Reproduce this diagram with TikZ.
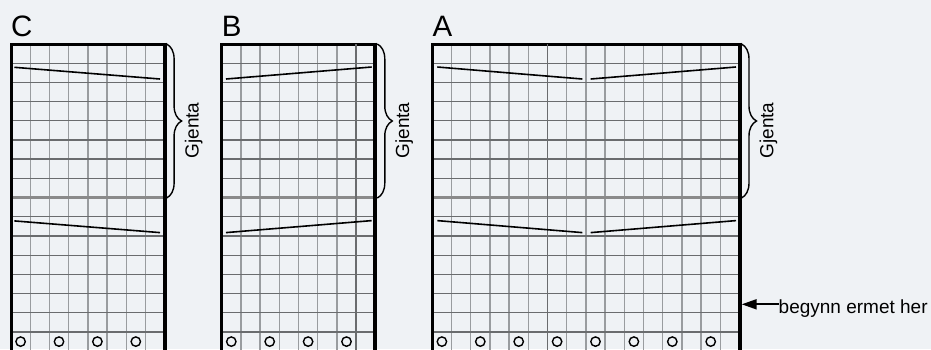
\documentclass[tikz,border=0pt]{standalone}
\usepackage{fontspec}
\setmainfont{Liberation Sans}
\usetikzlibrary{positioning,decorations.pathreplacing,arrows.meta}
\definecolor{ChartBg}{HTML}{EFF2F5}
\definecolor{GridV}{HTML}{999C9F}
\definecolor{GridH}{HTML}{6A6C6E}
\definecolor{RepeatGray}{HTML}{8A8A8A}

\begin{document}
\begin{tikzpicture}[x=1pt,y=-1pt,
    gridv/.style={GridV,line width=1.4pt},
    gridh/.style={GridH,line width=1.1pt},
    decline/.style={black,line width=1.6pt},
    sidetext/.style={font=\fontsize{19}{22}\selectfont,inner sep=0pt}]
        \fill[ChartBg] (0,0) rectangle (931,349);
        \useasboundingbox (0,0) rectangle (931,349);
        \clip (0,0) rectangle (931,349);
        \foreach \lft/\ncol/\lab in {11/8/C,221.7/8/B,432.3/16/A}{
          \pgfmathsetmacro\rgt{\lft+19.2*\ncol}
          \pgfmathtruncatemacro\lastcol{\ncol-1}
          \foreach \i in {1,...,\lastcol} \draw[gridv] ({\lft+19.2*\i},44) -- ({\lft+19.2*\i},352);
          \foreach \j in {1,...,15} \draw[gridh] (\lft,{44+19.2*\j}) -- (\rgt,{44+19.2*\j});
          \draw[gridh,line width=1.9pt] (\lft,{44+19.2*6}) -- (\rgt,{44+19.2*6});
          \draw[RepeatGray,line width=3.5pt] (\lft,{44+19.2*8}) -- (\rgt,{44+19.2*8});
          \foreach \k in {1,3,...,\lastcol} \draw[line width=1.4pt] ({\lft+19.2*(\k-0.5)},341.6) circle[radius=4.7];
          \draw[line width=3pt] (\lft,352) -- (\lft,44) -- (\rgt,44);
          \draw[line width=4pt] (\rgt,42.5) -- (\rgt,352);
          \node[font=\fontsize{29.5}{30}\selectfont,anchor=base west,inner sep=0pt] (lab\lab) at (\lft,36) {\lab};
          \draw[decorate,decoration={brace,amplitude=15},line width=1.4pt] ({\rgt+2},44) -- ({\rgt+2},198);
          \node[sidetext,rotate=90] (rep\lab) at ({\rgt+29},130.5) {Gjenta};
        }
        \draw[GridH,line width=1.6pt] (356.1,44) -- (356.1,352);
        \draw[GridH,line width=1.6pt] (547.5,44) -- (547.5,352);
        \foreach \dy in {0,153.6}{
          \draw[decline] (14.3,{67.3+\dy}) -- (160,{79+\dy});
          \draw[decline] (226,{79+\dy}) -- (371.7,{67+\dy});
          \draw[decline] (437.3,{67+\dy}) -- (582.3,{79+\dy});
          \draw[decline] (590.7,{79+\dy}) -- (736,{67+\dy});
        }
        \node[sidetext,anchor=base west] (start) at (778.5,313.3) {begynn ermet her};
        \coordinate (edgeA) at (741.7,304.3);
        \draw[-{Triangle[length=15,width=10]},line width=2pt] (start.west |- edgeA) -- (edgeA);
      \end{tikzpicture}
\end{document}
